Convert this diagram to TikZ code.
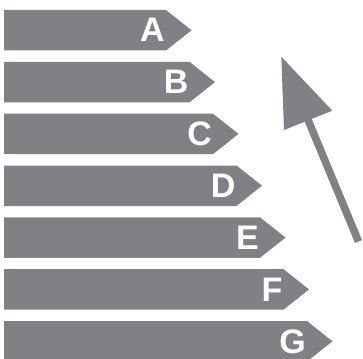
\documentclass[tikz,border=0pt]{standalone}
\usepackage{fontspec}
\setmainfont{Liberation Sans}
\usepackage{tikz}

\definecolor{bargray}{RGB}{128,129,133}

\tikzset{
  bar/.style={fill=bargray},
  grade/.style={text=white, font=\bfseries\fontsize{34}{34}\selectfont, anchor=east, inner sep=0pt}
}

\begin{document}
\begin{tikzpicture}[x=1pt, y=-1pt]
      \useasboundingbox (0,0) rectangle (363,358);
      \clip (0,0) rectangle (363,358);

      % draw the seven bars, each one longer than the last
      \fill[bar] (4,10) -- (166,10) -- (191.5,30.25) -- (166,50.5) -- (4,50.5) -- cycle;
      \fill[bar] (4,61.8) -- (189.5,61.8) -- (215,82.1) -- (189.5,102.3) -- (4,102.3) -- cycle;
      \fill[bar] (4,113.7) -- (213,113.7) -- (238.5,133.9) -- (213,154.2) -- (4,154.2) -- cycle;
      \fill[bar] (4,165.5) -- (236.5,165.5) -- (262,185.7) -- (236.5,206) -- (4,206) -- cycle;
      \fill[bar] (4,217.3) -- (260,217.3) -- (285.5,237.6) -- (260,257.8) -- (4,257.8) -- cycle;
      \fill[bar] (4,269.2) -- (283.5,269.2) -- (309,289.4) -- (283.5,309.7) -- (4,309.7) -- cycle;
      \fill[bar] (4,321) -- (307,321) -- (332.5,341.3) -- (307,361.5) -- (4,361.5) -- cycle;

      % write A..G
      \node[grade] (A) at (165,30.25) {A};
      \node[grade] (B) at (188.5,82.1) {B};
      \node[grade] (C) at (212,133.9) {C};
      \node[grade] (D) at (235.5,185.7) {D};
      \node[grade] (E) at (259,237.6) {E};
      \node[grade] (F) at (282.5,289.4) {F};
      \node[grade] (G) at (306,341.3) {G};

      % the big arrow on the right
      \coordinate (tip) at (281.3,56.7);
      \coordinate (headL) at (284,130);
      \coordinate (headR) at (332.3,110.7);
      \coordinate (shaftTop) at (306.3,115.8);
      \coordinate (shaftEnd) at (358.5,241.5);

      \fill[bargray] (tip) -- (headL) -- (headR) -- cycle;
      \draw[bargray, line width=7.6pt] (shaftTop) -- (shaftEnd);
\end{tikzpicture}
\end{document}
